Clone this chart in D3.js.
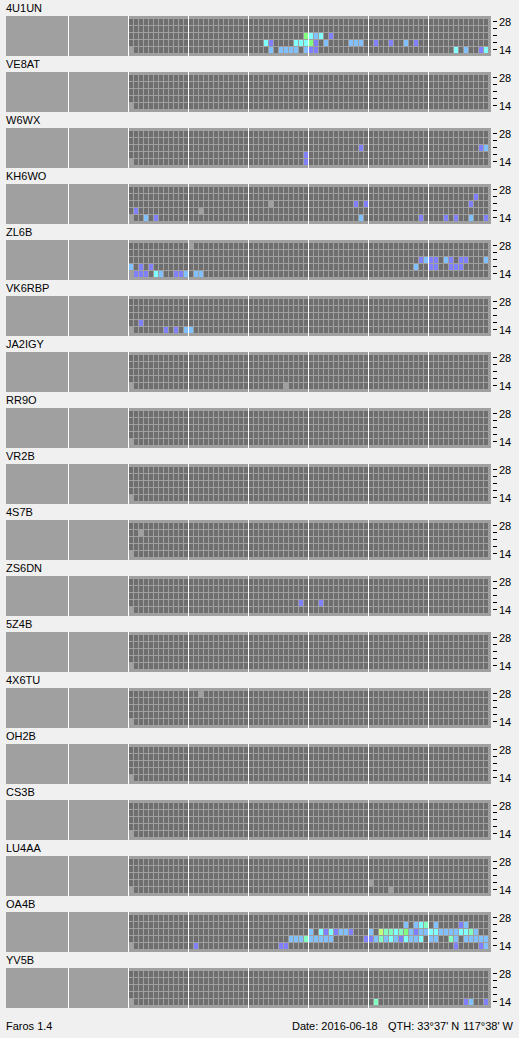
<!DOCTYPE html>
<html><head><meta charset="utf-8">
<script src="https://cdn.jsdelivr.net/npm/d3@7"></script>
<style>html,body{margin:0;padding:0;background:#f0f0f0;} svg{display:block;}</style>
</head><body>
<svg id="chart" width="519" height="1038"></svg>
<script>
// ---------- data ----------
const stations = ["4U1UN","VE8AT","W6WX","KH6WO","ZL6B","VK6RBP","JA2IGY","RR9O","VR2B",
                  "4S7B","ZS6DN","5Z4B","4X6TU","OH2B","CS3B","LU4AA","OA4B","YV5B"];
const bands = [28, 24, 21, 18, 14];          // MHz, top to bottom
const bandLabels = [28, 14];                  // labelled ticks
const slots = d3.range(72);                   // 20-minute time slots over the day
// signal level -> colour (level 0 = no data)
const levels = [1, 2, 3, 4, 5, 6];
const levelColors = ["#8080ff", "#80c0ff", "#80ffff", "#80ffc0", "#80ff80", "#c0ff80"];
// observations: [band MHz, slot, level]; level 0 = no data
const obs_4U1UN = [[14,0,0],
  [21,35,5],[21,36,3],[21,37,2],[21,38,3],[21,40,1],
  [18,27,3],[18,28,1],[18,33,3],[18,34,3],[18,35,3],[18,36,5],[18,37,1],[18,39,2],[18,44,2],[18,45,2],[18,46,2],[18,49,1],[18,52,1],[18,55,2],[18,57,1],
  [14,28,2],[14,30,2],[14,31,2],[14,32,2],[14,33,2],[14,35,2],[14,36,1],[14,37,1],[14,65,3],[14,67,2],[14,70,1],[14,71,3]];
const obs_VE8AT = [[14,0,0]];
const obs_W6WX = [[14,0,0],[18,35,1],[14,35,1],[21,46,1],[21,70,1],[21,71,2]];
const obs_KH6WO = [[14,0,0],[18,1,1],[14,3,2],[14,5,1],[18,14,0],[21,28,0],[24,69,1],[21,45,1],[21,47,1],[21,68,1],
  [14,46,2],[14,58,1],[14,63,1],[14,65,1],[14,68,2],[14,71,1]];
const obs_ZL6B = [[14,0,0],[28,12,0],[18,0,2],[18,2,1],[18,4,1],
  [14,1,1],[14,2,1],[14,3,1],[14,5,3],[14,6,2],[14,9,1],[14,10,1],[14,11,2],[14,13,2],[14,14,2],
  [21,58,1],[21,59,2],[21,60,1],[21,61,1],[21,63,2],[21,64,1],[21,66,1],[21,67,1],[21,71,2],
  [18,57,2],[18,60,1],[18,61,1],[18,64,1],[18,65,1],[18,66,1]];
const obs_VK6RBP = [[14,0,0],[18,2,1],[14,7,1],[14,9,1],[14,11,2],[14,12,2]];
const obs_JA2IGY = [[14,0,0],[14,31,0]];
const obs_RR9O = [[14,0,0]];
const obs_VR2B = [[14,0,0]];
const obs_4S7B = [[14,0,0],[24,2,0]];
const obs_ZS6DN = [[14,0,0],[18,34,1],[18,38,1]];
const obs_5Z4B = [[14,0,0]];
const obs_4X6TU = [[14,0,0],[28,14,0]];
const obs_OH2B = [[14,0,0]];
const obs_CS3B = [[14,0,0]];
const obs_LU4AA = [[14,0,0],[18,48,0],[14,52,0]];
const obs_OA4B = [[14,0,0],
  [24,55,2],[24,57,2],[24,58,3],[24,59,4],[24,61,2],[24,66,1],[24,67,2],
  [21,36,2],[21,38,3],[21,39,1],[21,40,3],[21,41,1],[21,42,2],[21,43,2],[21,44,1],
  [21,48,2],[21,50,6],[21,51,4],[21,52,4],[21,53,3],[21,54,4],[21,55,5],[21,56,2],[21,57,1],[21,58,2],[21,59,2],
  [21,60,3],[21,61,3],[21,62,2],[21,63,2],[21,64,2],[21,65,2],[21,66,3],[21,67,3],[21,68,4],[21,69,2],
  [18,32,2],[18,33,2],[18,34,2],[18,35,4],[18,36,2],[18,37,2],[18,38,2],[18,39,2],[18,40,2],
  [18,47,1],[18,48,1],[18,49,2],[18,50,4],[18,51,2],[18,52,3],[18,53,2],[18,54,1],[18,55,3],[18,56,2],[18,57,2],[18,58,3],
  [18,60,2],[18,61,2],[18,64,4],[18,65,2],[18,67,2],[18,68,2],[18,69,2],[18,70,2],[18,71,2],
  [14,13,1],[14,30,1],[14,31,1],[14,65,1],[14,70,1],[14,71,2]];
const obs_YV5B = [[14,0,0],[14,49,4],[14,67,1],[14,68,2],[14,71,1]];
const observations = [obs_4U1UN,obs_VE8AT,obs_W6WX,obs_KH6WO,obs_ZL6B,obs_VK6RBP,obs_JA2IGY,obs_RR9O,obs_VR2B,
  obs_4S7B,obs_ZS6DN,obs_5Z4B,obs_4X6TU,obs_OH2B,obs_CS3B,obs_LU4AA,obs_OA4B,obs_YV5B];
const footerLeft = "Faros 1.4";
const footerDate = "Date: 2016-06-18";
const footerLat = "QTH: 33°37' N";
const footerLon = "117°38' W";

// ---------- drawing ----------
const FONT = "'Liberation Sans', Arial, sans-serif";
const svg = d3.select("#chart");
const rowTop = d3.scaleLinear().domain([0, 1]).range([16, 72]);     // 56 px per station
const x = d3.scaleBand().domain(slots).range([129, 488]).paddingInner(0.2);
const y = d3.scaleBand().domain(bands).range([3, 37]).paddingInner(1/7);
const color = d3.scaleOrdinal().domain(levels).range(levelColors);
const panelH = 40, panelX0 = 6, panelX1 = 491;
const sepXs = [68].concat(slots.filter(k => k % 12 === 0).map(k => x(k) - 1));

stations.forEach((name, i) => {
  const g = svg.append("g").attr("transform", `translate(0,${rowTop(i)})`);
  g.append("text").attr("x", 6).attr("y", -4).attr("font-family", FONT).attr("font-size", 11)
    .attr("fill", "#000").text(name);
  g.append("rect").attr("x", panelX0).attr("y", 0).attr("width", panelX1 - panelX0).attr("height", panelH)
    .attr("fill", "#a0a0a0");
  const lookup = new Map(observations[i].map(d => [d[0] + "_" + d[1], d[2]]));
  const cells = [];
  bands.forEach(b => slots.forEach(k => {
    const key = b + "_" + k;
    const lv = lookup.has(key) ? lookup.get(key) : -1;
    if (lv !== 0) cells.push({b, k, lv});
  }));
  g.selectAll("rect.cell").data(cells).join("rect").attr("class", "cell")
    .attr("x", d => x(d.k)).attr("y", d => y(d.b))
    .attr("width", x.bandwidth()).attr("height", y.bandwidth())
    .attr("fill", d => d.lv > 0 ? color(d.lv) : "#6e6e6e");
  g.selectAll("rect.sep").data(sepXs).join("rect").attr("class", "sep")
    .attr("x", d => d).attr("y", 0).attr("width", 1).attr("height", panelH).attr("fill", "#ffffff");
  // right axis
  g.selectAll("rect.tick").data(bands).join("rect").attr("class", "tick")
    .attr("x", 493).attr("y", d => y(d) + 2).attr("width", 4).attr("height", 1).attr("fill", "#000");
  g.selectAll("text.tl").data(bandLabels).join("text").attr("class", "tl")
    .attr("x", 499).attr("y", d => y(d) + 6.5).attr("font-family", FONT).attr("font-size", 11)
    .attr("fill", "#000").text(d => d);
});

svg.append("text").attr("x", 6).attr("y", 1029.5).attr("font-family", FONT).attr("font-size", 11).text(footerLeft);
svg.append("text").attr("x", 292).attr("y", 1029.5).attr("font-family", FONT).attr("font-size", 11).text(footerDate);
svg.append("text").attr("x", 388).attr("y", 1029.5).attr("font-family", FONT).attr("font-size", 11).text(footerLat);
svg.append("text").attr("x", 513).attr("y", 1029.5).attr("text-anchor", "end").attr("font-family", FONT).attr("font-size", 11).text(footerLon);
</script>
</body></html>
